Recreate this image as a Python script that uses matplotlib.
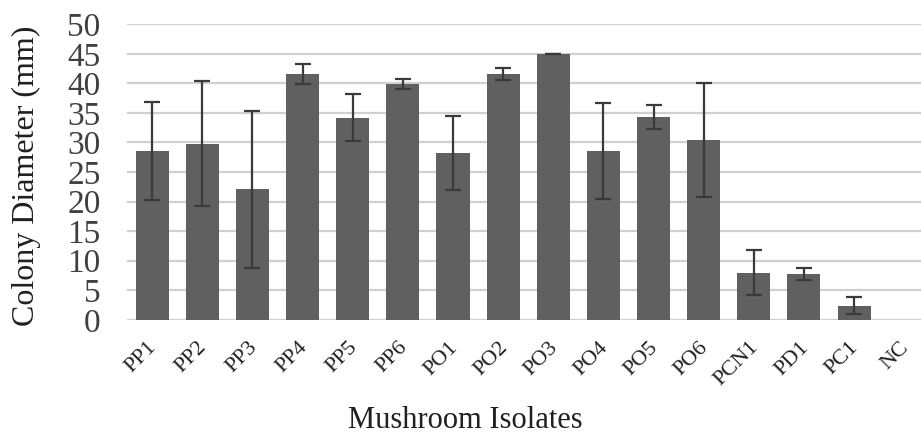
import matplotlib
matplotlib.use("Agg")
import matplotlib.pyplot as plt
import matplotlib.transforms as mtransforms
import numpy as np

categories = ["PP1", "PP2", "PP3", "PP4", "PP5", "PP6", "PO1", "PO2", "PO3",
              "PO4", "PO5", "PO6", "PCN1", "PD1", "PC1", "NC"]
means = [28.5, 29.8, 22.1, 41.6, 34.2, 39.9, 28.2, 41.6, 45.0,
         28.5, 34.3, 30.4, 8.0, 7.8, 2.4, 0.0]
errors = [8.3, 10.6, 13.3, 1.7, 4.0, 0.8, 6.2, 1.0, 0.0,
          8.1, 2.0, 9.7, 3.8, 1.0, 1.4, 0.0]
yticks = [0, 5, 10, 15, 20, 25, 30, 35, 40, 45, 50]

plt.rcParams['font.family'] = ['Liberation Serif', 'DejaVu Serif']

fig = plt.figure(figsize=(9.21, 4.40), dpi=100)
ax = fig.add_axes([0.138, 0.273, 0.871, 0.672])

x = np.arange(len(categories))
ax.bar(x, means, width=0.66, color="#606060", zorder=3)
m = np.array(means) > 0
ax.errorbar(x[m], np.array(means)[m], yerr=np.array(errors)[m], fmt="none",
            ecolor="#3a3a3a", elinewidth=1.6, capsize=6, capthick=1.6, zorder=4)

ax.set_xlim(-0.5, len(categories) - 0.5)
ax.set_ylim(0, 50)
ax.set_yticks(yticks)
ax.set_yticklabels([str(v) for v in yticks], fontsize=24, color="#404040")
ax.yaxis.grid(True, color="#d0d0d0", linewidth=1.6, zorder=0)
ax.set_axisbelow(True)
ax.tick_params(axis="y", length=0, pad=19)
ax.tick_params(axis="x", length=0, pad=13)

ax.set_xticks(x)
ax.set_xticklabels(categories, rotation=45, ha="right", rotation_mode="anchor",
                   fontsize=16, color="#202020")
offset = mtransforms.ScaledTranslation(-0.05, 0, fig.dpi_scale_trans)
for lbl in ax.get_xticklabels():
    lbl.set_transform(lbl.get_transform() + offset)

for s in ax.spines.values():
    s.set_visible(False)

fig.text(0.029, 0.60, "Colony Diameter (mm)", fontsize=23, rotation=90,
         ha="center", va="center", color="#202020")
fig.text(0.505, 0.045, "Mushroom Isolates", fontsize=22, ha="center", va="center",
         color="#202020")

fig.savefig("out.png", dpi=100)
